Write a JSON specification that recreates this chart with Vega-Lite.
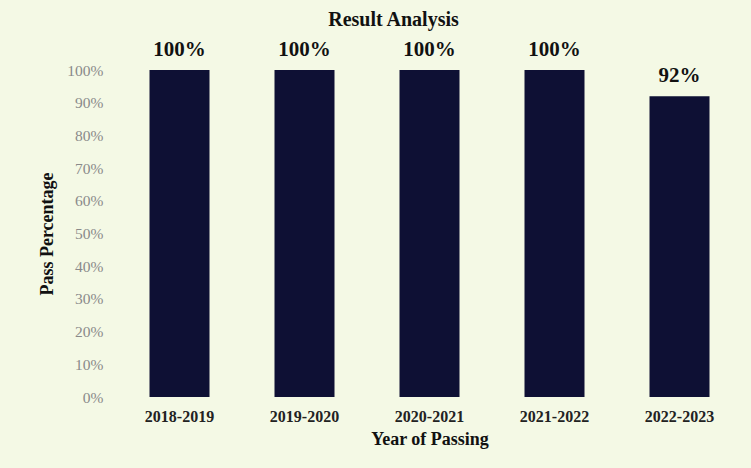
{
  "$schema": "https://vega.github.io/schema/vega-lite/v6.json",
  "autosize": "none",
  "width": 625,
  "height": 327,
  "padding": {"left": 117, "top": 70, "right": 9, "bottom": 71},
  "background": "#f4f9e5",
  "title": {
    "text": "Result Analysis",
    "font": "Liberation Serif",
    "fontSize": 20,
    "fontWeight": "bold",
    "color": "#111111",
    "anchor": "middle",
    "dx": -36,
    "offset": 9
  },
  "config": {
    "view": {"stroke": null},
    "axis": {"grid": false, "domain": false, "ticks": false}
  },
  "data": {
    "values": [
      {"year": "2018-2019", "pct": 100},
      {"year": "2019-2020", "pct": 100},
      {"year": "2020-2021", "pct": 100},
      {"year": "2021-2022", "pct": 100},
      {"year": "2022-2023", "pct": 92}
    ]
  },
  "transform": [{"calculate": "datum.pct + '%'", "as": "label"}],
  "encoding": {
    "x": {
      "field": "year",
      "type": "nominal",
      "sort": null,
      "scale": {"paddingInner": 0.52, "paddingOuter": 0.26},
      "axis": {
        "title": "Year of Passing",
        "labelAngle": 0,
        "labelFont": "Liberation Serif",
        "labelFontSize": 16,
        "labelFontWeight": "bold",
        "labelColor": "#222222",
        "labelPadding": 11,
        "titleFont": "Liberation Serif",
        "titleFontSize": 18,
        "titleFontWeight": "bold",
        "titleColor": "#111111",
        "titlePadding": 6
      }
    },
    "y": {
      "field": "pct",
      "type": "quantitative",
      "scale": {"domain": [0, 100]},
      "axis": {
        "title": "Pass Percentage",
        "values": [0, 10, 20, 30, 40, 50, 60, 70, 80, 90, 100],
        "labelExpr": "datum.value + '%'",
        "labelFont": "Liberation Serif",
        "labelFontSize": 15.5,
        "labelColor": "#8a8a8a",
        "labelPadding": 14,
        "titleFont": "Liberation Serif",
        "titleFontSize": 18,
        "titleFontWeight": "bold",
        "titleColor": "#111111",
        "titlePadding": 10
      }
    }
  },
  "layer": [
    {"mark": {"type": "bar", "color": "#0e1034"}},
    {
      "mark": {
        "type": "text",
        "baseline": "alphabetic",
        "dy": -14,
        "font": "Liberation Serif",
        "fontSize": 21,
        "fontWeight": "bold",
        "color": "#111111"
      },
      "encoding": {"text": {"field": "label", "type": "nominal"}}
    }
  ]
}
